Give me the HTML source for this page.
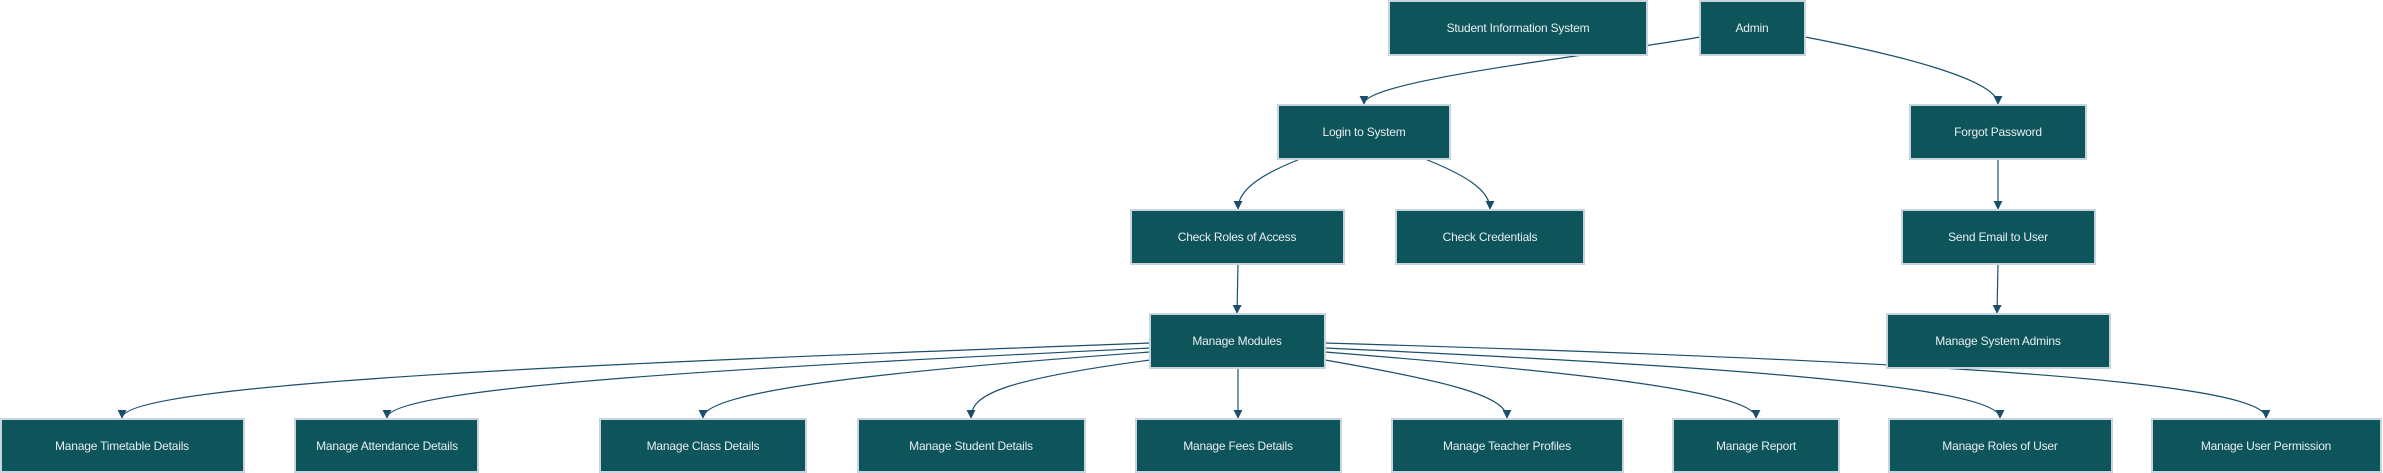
<!DOCTYPE html>
<html><head><meta charset="utf-8"><style>
html,body{margin:0;padding:0;background:#fff;width:2383px;height:473px;overflow:hidden}
svg{display:block}
text{font-family:"Liberation Sans",sans-serif;font-size:12px;fill:#e8eef0;text-anchor:middle;dominant-baseline:central;letter-spacing:-0.2px}
rect{fill:#0d545b;stroke:#c9d5de;stroke-width:2}
path{fill:none;stroke:#1b4e6b;stroke-width:1.2}
</style></head><body>
<svg width="2383" height="473" viewBox="0 0 2383 473" xmlns="http://www.w3.org/2000/svg">
<defs>
<marker id="m" markerWidth="9" markerHeight="9" refX="9" refY="5" orient="auto" markerUnits="userSpaceOnUse" viewBox="0 0 10 10"><path d="M0,0 L10,5 L0,10 z" style="fill:#1b4e6b;stroke:none"/></marker></defs>
<g marker-end="url(#m)">
<path d="M1700,37 C1600,55 1364,80 1364,104"/>
<path d="M1805,37 C1900,55 1998,80 1998,104"/>
<path d="M1300,159 C1260,175 1238,190 1238,209"/>
<path d="M1425,159 C1465,175 1490,190 1490,209"/>
<path d="M1238,264 L1237,313"/>
<path d="M1998,159 L1998,209"/>
<path d="M1998,264 L1997,313"/>
<path d="M1150,343 C700,360 122,380 122,418"/>
<path d="M1150,348 C800,365 387,385 387,418"/>
<path d="M1150,352 C900,370 703,390 703,418"/>
<path d="M1150,360 C1000,380 971,395 971,418"/>
<path d="M1238,368 L1238,418"/>
<path d="M1325,360 C1440,380 1507,395 1507,418"/>
<path d="M1325,352 C1550,370 1756,390 1756,418"/>
<path d="M1325,348 C1700,365 2000,385 2000,418"/>
<path d="M1325,343 C1900,360 2266,380 2266,418"/>
</g>
<rect x="1389" y="1" width="258" height="54"/><text x="1518" y="28">Student Information System</text>
<rect x="1700" y="1" width="105" height="54"/><text x="1752" y="28">Admin</text>
<rect x="1278" y="105" width="172" height="54"/><text x="1364" y="132">Login to System</text>
<rect x="1910" y="105" width="176" height="54"/><text x="1998" y="132">Forgot Password</text>
<rect x="1131" y="210" width="213" height="54"/><text x="1237" y="237">Check Roles of Access</text>
<rect x="1396" y="210" width="188" height="54"/><text x="1490" y="237">Check Credentials</text>
<rect x="1902" y="210" width="193" height="54"/><text x="1998" y="237">Send Email to User</text>
<rect x="1150" y="314" width="175" height="54"/><text x="1237" y="341">Manage Modules</text>
<rect x="1887" y="314" width="223" height="54"/><text x="1998" y="341">Manage System Admins</text>
<rect x="1" y="419" width="243" height="53"/><text x="122" y="446">Manage Timetable Details</text>
<rect x="295" y="419" width="183" height="53"/><text x="387" y="446">Manage Attendance Details</text>
<rect x="600" y="419" width="206" height="53"/><text x="703" y="446">Manage Class Details</text>
<rect x="858" y="419" width="227" height="53"/><text x="971" y="446">Manage Student Details</text>
<rect x="1136" y="419" width="205" height="53"/><text x="1238" y="446">Manage Fees Details</text>
<rect x="1392" y="419" width="231" height="53"/><text x="1507" y="446">Manage Teacher Profiles</text>
<rect x="1673" y="419" width="166" height="53"/><text x="1756" y="446">Manage Report</text>
<rect x="1889" y="419" width="223" height="53"/><text x="2000" y="446">Manage Roles of User</text>
<rect x="2152" y="419" width="229" height="53"/><text x="2266" y="446">Manage User Permission</text>
</svg>
</body></html>
